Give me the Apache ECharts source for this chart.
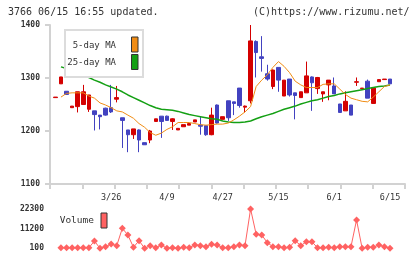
<!DOCTYPE html>
<html>
<head>
<meta charset="utf-8">
<script src="https://cdn.jsdelivr.net/npm/echarts@6/dist/echarts.min.js"></script>
<style>
html,body{margin:0;padding:0;background:#fff;}
#main{width:420px;height:259px;}
</style>
</head>
<body>
<div id="main"></div>
<script>
// trading days (only every 10th is labelled on the chart)
var dates = ['3/9','3/12','3/13','3/14','3/15','3/16','3/19','3/20','3/22','3/23',
  '3/26','3/27','3/28','3/29','3/30','4/2','4/3','4/4','4/5','4/6',
  '4/9','4/10','4/11','4/13','4/16','4/17','4/19','4/20','4/24','4/25',
  '4/27','4/30','5/1','5/2','5/7','5/8','5/9','5/10','5/11','5/14',
  '5/15','5/16','5/17','5/18','5/21','5/22','5/23','5/24','5/28','5/30',
  '6/1','6/4','6/5','6/6','6/7','6/8','6/11','6/12','6/13','6/14',
  '6/15'];

var opens  = [1263,1289,1275,1244,1246,1250,1241,1238,1230,1243,
  1244,1260,1225,1202,1193,1202,1178,1183,1218,1228,
  1228,1218,1202,1208,1211,1217,1211,1210,1193,1249,
  1222,1257,1255,1281,1245,1257,1369,1340,1308,1284,
  1320,1266,1298,1272,1263,1272,1302,1280,1270,1287,
  1285,1251,1238,1249,1292,1280,1294,1252,1293,1297,
  1298];
var closes = [1264,1302,1269,1247,1274,1274,1268,1231,1227,1230,
  1236,1263,1220,1193,1204,1183,1174,1200,1223,1218,
  1220,1223,1205,1212,1214,1221,1209,1193,1230,1215,
  1227,1225,1252,1248,1247,1370,1348,1337,1298,1315,
  1296,1296,1268,1267,1274,1304,1291,1301,1274,1296,
  1270,1235,1256,1230,1293,1281,1262,1281,1297,1298,
  1289];
var lows   = [1263,1289,1269,1244,1235,1250,1236,1201,1203,1229,
  1234,1254,1168,1160,1185,1160,1174,1177,1218,1187,
  1219,1202,1202,1208,1211,1217,1193,1191,1192,1214,
  1222,1219,1230,1244,1235,1252,1301,1312,1295,1279,
  1274,1266,1265,1222,1263,1272,1238,1270,1255,1258,
  1270,1235,1238,1230,1285,1280,1262,1252,1293,1297,
  1289];
var highs  = [1264,1302,1275,1247,1274,1287,1268,1238,1230,1244,
  1287,1285,1225,1202,1204,1203,1178,1202,1223,1228,
  1229,1224,1205,1212,1214,1221,1227,1210,1244,1250,
  1227,1257,1255,1281,1248,1400,1371,1379,1325,1316,
  1320,1296,1298,1272,1274,1331,1303,1302,1274,1296,
  1301,1251,1275,1249,1301,1281,1297,1281,1297,1298,
  1298];

var ma5  = ['-',1264,1271,1272,1272,1272,1266,1262,1253,1249,
  1244,1238,1236,1230,1224,1214,1207,1197,1192,1196,
  1203,1208,1216,1216,1216,1214,1212,1211,1212,1213,
  1213,1215,1221,1228,1236,1246,1284,1296,1306,1320,
  1331,1322,1310,1294,1287,1282,1282,1282,1288,1289,
  1289,1279,1269,1262,1259,1256,1255,1264,1274,1284,
  1287];
var ma25 = ['-',1321,1318,1315,1311,1306,1301,1296,1292,1287,
  1283,1279,1274,1268,1263,1258,1253,1248,1244,1241,
  1240,1239,1237,1234,1231,1229,1227,1225,1223,1222,
  1219,1217,1216,1216,1217,1219,1223,1227,1230,1233,
  1237,1241,1244,1247,1251,1254,1257,1259,1262,1265,
  1267,1270,1272,1274,1276,1278,1280,1282,1284,1285,
  1287];

var volume = ['-',400,400,400,400,400,400,4200,100,1000,
  2500,1600,11400,7600,700,4400,100,1600,400,2000,
  100,400,100,700,400,2000,1600,1000,2400,2000,
  400,400,1000,2000,1600,22300,8000,7600,3300,1000,
  1000,400,700,4400,1600,3800,3800,400,400,700,
  400,1000,1000,1000,16100,100,700,700,2000,1000,
  100];

var priceTicks = [1100, 1200, 1300, 1400];
var volTicks = [100, 11200, 22300];

var mono = 'DejaVu Sans Mono';
var red = '#d40000', blue = '#4242c0';
var orange = '#f08c14', green = '#14a014', pink = '#ff6262';
var axisGray = '#d2d2d2';

var ohlc = opens.map(function (o, i) {
  return [o, closes[i], lows[i], highs[i]];
});

function plain(v) { return String(v); }

var chart = echarts.init(document.getElementById('main'));

var option = {
  animation: false,
  title: [{
    text: '3766 06/15 16:55 updated.',
    left: 8, top: 7, padding: 0,
    textStyle: {fontFamily: mono, fontSize: 10, fontWeight: 'normal', color: '#333'}
  }, {
    text: '(C)https://www.rizumu.net/',
    left: 253, top: 7, padding: 0,
    textStyle: {fontFamily: mono, fontSize: 10, fontWeight: 'normal', color: '#333'}
  }],
  grid: [
    {left: 50, right: 15, top: 25, bottom: 75, outerBoundsMode: 'none'},
    {left: 52.6, right: 27.2, top: 25, bottom: 75, outerBoundsMode: 'none'},
    {left: 52.6, right: 27.2, top: 209, bottom: 10.7, outerBoundsMode: 'none'}
  ],
  xAxis: [{
    // frame axis: only line and weekly ticks
    type: 'value', gridIndex: 0, min: 0, max: 11, interval: 1,
    axisLine: {show: true, lineStyle: {color: axisGray, width: 2}},
    axisTick: {show: true, length: 5, lineStyle: {color: axisGray, width: 2}},
    axisLabel: {show: false},
    splitLine: {show: false}
  }, {
    type: 'category', gridIndex: 1, data: dates,
    axisLine: {show: false}, axisTick: {show: false},
    splitLine: {show: false},
    axisLabel: {
      interval: function (i) { return i > 0 && i % 10 === 0; },
      margin: 9, fontFamily: mono, fontSize: 8.5, color: '#333'
    }
  }, {
    type: 'category', gridIndex: 2, data: dates, show: false
  }],
  yAxis: [{
    type: 'value', gridIndex: 0,
    min: priceTicks[0], max: priceTicks[priceTicks.length - 1], interval: 100,
    axisLine: {show: true, lineStyle: {color: axisGray, width: 2}},
    axisTick: {show: true, length: 5, lineStyle: {color: axisGray, width: 2}},
    splitLine: {show: false},
    axisLabel: {formatter: plain, margin: 10, fontFamily: mono, fontSize: 8, fontWeight: 'bold', color: '#333'}
  }, {
    type: 'value', gridIndex: 1,
    min: priceTicks[0], max: priceTicks[priceTicks.length - 1], show: false
  }, {
    type: 'value', gridIndex: 2,
    min: volTicks[0], max: volTicks[volTicks.length - 1],
    axisLine: {show: false}, axisTick: {show: false}, splitLine: {show: false},
    axisLabel: {customValues: volTicks, formatter: plain, margin: 8.6, fontFamily: mono, fontSize: 8, fontWeight: 'bold', color: '#333'}
  }],
  series: [{
    type: 'candlestick', name: 'price',
    xAxisIndex: 1, yAxisIndex: 1,
    data: ohlc,
    barWidth: 4,
    itemStyle: {color: red, color0: blue, borderColor: red, borderColor0: blue, borderWidth: 1}
  }, {
    type: 'line', name: '25-day MA',
    xAxisIndex: 1, yAxisIndex: 1,
    data: ma25, symbol: 'none',
    lineStyle: {color: green, width: 1.5},
    z: 3
  }, {
    type: 'line', name: '5-day MA',
    xAxisIndex: 1, yAxisIndex: 1,
    data: ma5, symbol: 'none',
    lineStyle: {color: orange, width: 1},
    z: 4
  }, {
    type: 'line', name: 'Volume',
    xAxisIndex: 2, yAxisIndex: 2,
    data: volume,
    symbol: 'diamond', symbolSize: 7, showAllSymbol: true,
    lineStyle: {color: pink, width: 1},
    itemStyle: {color: pink}
  }],
  graphic: [
    {type: 'rect', z: 100, shape: {x: 65, y: 30, width: 78, height: 47},
      style: {fill: '#fff', stroke: '#dcdcdc', lineWidth: 2}},
    {type: 'text', z: 101, x: 116, y: 45.5,
      style: {text: '5-day MA', align: 'right', verticalAlign: 'middle', font: '9px ' + mono, fill: '#333'}},
    {type: 'rect', z: 101, shape: {x: 131.5, y: 37, width: 6.5, height: 15},
      style: {fill: orange, stroke: '#333', lineWidth: 1}},
    {type: 'text', z: 101, x: 116, y: 63,
      style: {text: '25-day MA', align: 'right', verticalAlign: 'middle', font: '9px ' + mono, fill: '#333'}},
    {type: 'rect', z: 101, shape: {x: 131.5, y: 54.5, width: 6.5, height: 15},
      style: {fill: green, stroke: '#333', lineWidth: 1}},
    {type: 'text', z: 101, x: 94, y: 221,
      style: {text: 'Volume', align: 'right', verticalAlign: 'middle', font: '9.5px ' + mono, fill: '#333'}},
    {type: 'rect', z: 101, shape: {x: 101, y: 213, width: 6, height: 15},
      style: {fill: pink, stroke: '#333', lineWidth: 1}}
  ]
};

chart.setOption(option);
</script>
</body>
</html>
